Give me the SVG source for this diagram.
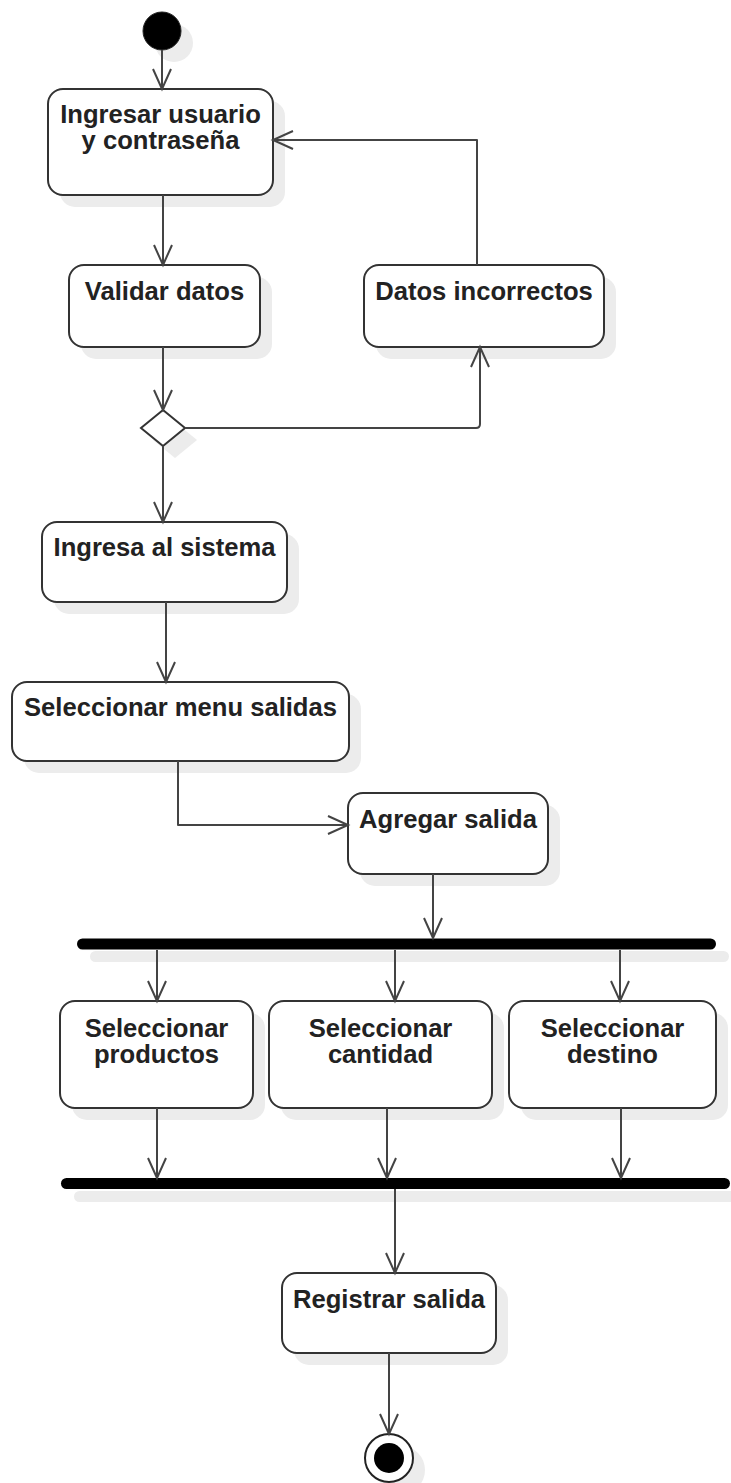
<svg xmlns="http://www.w3.org/2000/svg" width="731" height="1483" viewBox="0 0 731 1483">
<defs>
<style>
.box{fill:#ffffff;stroke:#333333;stroke-width:2}
.sh{fill:#ececec;stroke:none}
.bar{fill:#000000}
.t{font-family:"Liberation Sans",Arial,sans-serif;font-size:25.6px;font-weight:bold;fill:#222222;text-anchor:middle}
.c{fill:none;stroke:#444444;stroke-width:2;stroke-linejoin:round}
</style>
<marker id="arr" markerUnits="userSpaceOnUse" viewBox="-22 -11 24 22" markerWidth="24" markerHeight="22" refX="0" refY="0" orient="auto" overflow="visible">
<path d="M-20,-9 L0,0 L-20,9" fill="none" stroke="#444444" stroke-width="2"/>
</marker>
</defs>
<rect width="731" height="1483" fill="#ffffff"/>

<g id="start">
<circle cx="174" cy="43" r="19" class="sh"/>
<circle cx="162" cy="31" r="19" fill="#000000" stroke="#222222" stroke-width="1"/>
</g>

<g id="n1">
<rect x="60" y="101" width="225" height="106" rx="15" class="sh"/>
<rect x="48" y="89" width="225" height="106" rx="15" class="box"/>
<text class="t" x="160.5" y="123">Ingresar usuario</text>
<text class="t" x="160.5" y="149">y contraseña</text>
</g>

<g id="n2">
<rect x="81" y="277" width="191" height="82" rx="15" class="sh"/>
<rect x="69" y="265" width="191" height="82" rx="15" class="box"/>
<text class="t" x="164.5" y="300">Validar datos</text>
</g>

<g id="n3">
<rect x="376" y="277" width="240" height="82" rx="15" class="sh"/>
<rect x="364" y="265" width="240" height="82" rx="15" class="box"/>
<text class="t" x="484" y="300">Datos incorrectos</text>
</g>

<g id="decision">
<polygon points="175,422 197,440 175,458 153,440" class="sh"/>
<polygon points="163,410 185,428 163,446 141,428" class="box"/>
</g>

<g id="n4">
<rect x="54" y="534" width="245" height="80" rx="15" class="sh"/>
<rect x="42" y="522" width="245" height="80" rx="15" class="box"/>
<text class="t" x="164.5" y="556">Ingresa al sistema</text>
</g>

<g id="n5">
<rect x="24" y="694" width="337" height="79" rx="15" class="sh"/>
<rect x="12" y="682" width="337" height="79" rx="15" class="box"/>
<text class="t" x="180.5" y="716">Seleccionar menu salidas</text>
</g>

<g id="n6">
<rect x="360" y="805" width="200" height="81" rx="15" class="sh"/>
<rect x="348" y="793" width="200" height="81" rx="15" class="box"/>
<text class="t" x="448" y="828">Agregar salida</text>
</g>

<g id="fork">
<rect x="90" y="951" width="639" height="11" rx="5.5" class="sh"/>
<rect x="77" y="938.5" width="639" height="11" rx="5.5" class="bar"/>
</g>

<g id="n7">
<rect x="72" y="1013" width="193" height="107" rx="15" class="sh"/>
<rect x="60" y="1001" width="193" height="107" rx="15" class="box"/>
<text class="t" x="156.5" y="1037">Seleccionar</text>
<text class="t" x="156.5" y="1063">productos</text>
</g>

<g id="n8">
<rect x="281" y="1013" width="223" height="107" rx="15" class="sh"/>
<rect x="269" y="1001" width="223" height="107" rx="15" class="box"/>
<text class="t" x="380.5" y="1037">Seleccionar</text>
<text class="t" x="380.5" y="1063">cantidad</text>
</g>

<g id="n9">
<rect x="521" y="1013" width="207" height="107" rx="15" class="sh"/>
<rect x="509" y="1001" width="207" height="107" rx="15" class="box"/>
<text class="t" x="612.5" y="1037">Seleccionar</text>
<text class="t" x="612.5" y="1063">destino</text>
</g>

<g id="join">
<rect x="74" y="1191" width="669" height="11" rx="5.5" class="sh"/>
<rect x="61" y="1178" width="669" height="11" rx="5.5" class="bar"/>
</g>

<g id="n10">
<rect x="294" y="1285" width="214" height="80" rx="15" class="sh"/>
<rect x="282" y="1273" width="214" height="80" rx="15" class="box"/>
<text class="t" x="389" y="1308">Registrar salida</text>
</g>

<g id="end">
<circle cx="401" cy="1470" r="24" class="sh"/>
<circle cx="389" cy="1458" r="24" fill="#ffffff" stroke="#222222" stroke-width="2"/>
<circle cx="389" cy="1458" r="15" fill="#000000"/>
</g>

<g id="connectors">
<path class="c" d="M162,50 L162,89" marker-end="url(#arr)"/>
<path class="c" d="M163,195 L163,265" marker-end="url(#arr)"/>
<path class="c" d="M163,347 L163,410" marker-end="url(#arr)"/>
<path class="c" d="M185,428 L476,428 Q480,428 480,424 L480,347" marker-end="url(#arr)"/>
<path class="c" d="M477,265 L477,140 L273,140" marker-end="url(#arr)"/>
<path class="c" d="M163,446 L163,522" marker-end="url(#arr)"/>
<path class="c" d="M166,602 L166,682" marker-end="url(#arr)"/>
<path class="c" d="M178,761 L178,825 L348,825" marker-end="url(#arr)"/>
<path class="c" d="M433,874 L433,938" marker-end="url(#arr)"/>
<path class="c" d="M157,950 L157,1001" marker-end="url(#arr)"/>
<path class="c" d="M395,950 L395,1001" marker-end="url(#arr)"/>
<path class="c" d="M620,950 L620,1001" marker-end="url(#arr)"/>
<path class="c" d="M157,1108 L157,1178" marker-end="url(#arr)"/>
<path class="c" d="M387,1108 L387,1178" marker-end="url(#arr)"/>
<path class="c" d="M621,1108 L621,1178" marker-end="url(#arr)"/>
<path class="c" d="M395,1189 L395,1273" marker-end="url(#arr)"/>
<path class="c" d="M389,1353 L389,1434" marker-end="url(#arr)"/>
</g>
</svg>
